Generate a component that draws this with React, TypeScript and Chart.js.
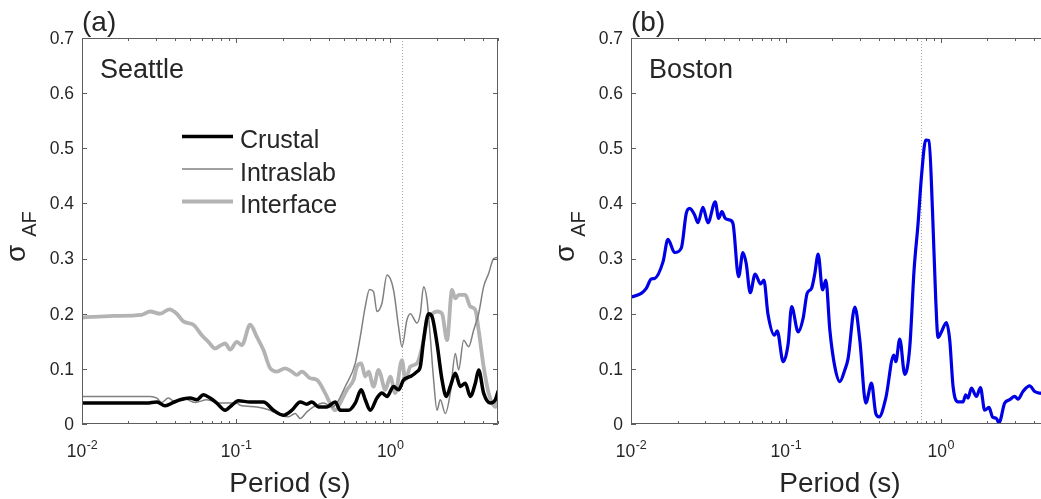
import React, { useEffect, useRef } from 'react';
import { Chart, registerables } from 'chart.js';

Chart.register(...registerables);

// ---------------- Data ----------------
const periodRange = [0.01, 5];
const yTicks = [0, 0.1, 0.2, 0.3, 0.4, 0.5, 0.6, 0.7];
const yTickLabels = ['0', '0.1', '0.2', '0.3', '0.4', '0.5', '0.6', '0.7'];
const xMajorTicks = [0.01, 0.1, 1];
const xMajorExponents = ['-2', '-1', '0'];
const xMinorTicks = [0.02, 0.03, 0.04, 0.05, 0.06, 0.07, 0.08, 0.09, 0.2, 0.3, 0.4, 0.5, 0.6, 0.7, 0.8, 0.9, 2, 3, 4, 5];

const seattleCrustalPeriods = [0.01, 0.0159, 0.0263, 0.0306, 0.0346, 0.0392, 0.0433, 0.0503, 0.0556, 0.0613, 0.0678, 0.0749, 0.0849, 0.0938, 0.1035, 0.1233, 0.1504, 0.1747, 0.2028, 0.23, 0.2604, 0.2878, 0.3101, 0.3423, 0.3882, 0.4395, 0.4735, 0.5362, 0.5926, 0.6483, 0.6882, 0.7414, 0.8197, 0.8833, 0.952, 1.05, 1.132, 1.22, 1.349, 1.491, 1.566, 1.645, 1.773, 1.866, 2.01, 2.167, 2.31, 2.452, 2.643, 2.848, 3.069, 3.307, 3.564, 3.745, 4.035, 4.461, 4.806, 5.0];
const seattleCrustal = [0.038, 0.038, 0.038, 0.040, 0.033, 0.039, 0.044, 0.047, 0.044, 0.053, 0.047, 0.038, 0.025, 0.034, 0.042, 0.040, 0.040, 0.025, 0.016, 0.025, 0.040, 0.036, 0.040, 0.031, 0.031, 0.040, 0.025, 0.025, 0.038, 0.062, 0.044, 0.025, 0.047, 0.056, 0.050, 0.068, 0.062, 0.080, 0.086, 0.095, 0.104, 0.152, 0.200, 0.195, 0.146, 0.080, 0.050, 0.068, 0.092, 0.068, 0.074, 0.050, 0.074, 0.098, 0.056, 0.038, 0.044, 0.059];

const seattleIntraslabPeriods = [0.01, 0.0277, 0.0306, 0.0329, 0.0363, 0.0402, 0.0455, 0.0542, 0.0645, 0.0787, 0.101, 0.1062, 0.1363, 0.1663, 0.1931, 0.2186, 0.2416, 0.2604, 0.2878, 0.3175, 0.3688, 0.4182, 0.4506, 0.5103, 0.5926, 0.6386, 0.6882, 0.7337, 0.7789, 0.8197, 0.8833, 0.952, 1.05, 1.132, 1.191, 1.284, 1.349, 1.491, 1.566, 1.645, 1.731, 1.818, 1.911, 2.01, 2.112, 2.276, 2.452, 2.643, 2.777, 2.992, 3.225, 3.474, 3.745, 4.035, 4.348, 4.686, 5.0];
const seattleIntraslab = [0.050, 0.050, 0.047, 0.039, 0.047, 0.040, 0.047, 0.039, 0.044, 0.038, 0.038, 0.034, 0.031, 0.025, 0.016, 0.013, 0.019, 0.010, 0.022, 0.031, 0.038, 0.031, 0.038, 0.068, 0.110, 0.158, 0.213, 0.244, 0.240, 0.204, 0.219, 0.270, 0.243, 0.176, 0.140, 0.189, 0.200, 0.183, 0.200, 0.249, 0.225, 0.158, 0.080, 0.025, 0.044, 0.019, 0.056, 0.128, 0.098, 0.152, 0.140, 0.170, 0.200, 0.249, 0.273, 0.300, 0.302];

const seattleInterfacePeriods = [0.01, 0.0159, 0.0244, 0.0277, 0.0321, 0.0369, 0.0412, 0.0455, 0.0528, 0.0599, 0.0661, 0.0731, 0.0787, 0.0849, 0.0914, 0.101, 0.1089, 0.1233, 0.1363, 0.1504, 0.1663, 0.1837, 0.208, 0.23, 0.2478, 0.2671, 0.3023, 0.3342, 0.3783, 0.4182, 0.4395, 0.4735, 0.5234, 0.5777, 0.6077, 0.6483, 0.6882, 0.7229, 0.7789, 0.8395, 0.861, 0.9279, 1.0, 1.078, 1.191, 1.252, 1.349, 1.491, 1.645, 1.731, 1.866, 2.01, 2.167, 2.335, 2.515, 2.643, 2.777, 3.069, 3.307, 3.564, 3.745, 4.035, 4.348, 4.806, 5.0];
const seattleInterface = [0.193, 0.196, 0.198, 0.204, 0.200, 0.208, 0.200, 0.186, 0.180, 0.161, 0.149, 0.137, 0.142, 0.146, 0.135, 0.149, 0.143, 0.180, 0.158, 0.134, 0.101, 0.095, 0.101, 0.095, 0.089, 0.095, 0.083, 0.080, 0.056, 0.031, 0.025, 0.038, 0.062, 0.080, 0.104, 0.110, 0.086, 0.095, 0.068, 0.098, 0.092, 0.062, 0.086, 0.056, 0.116, 0.080, 0.104, 0.110, 0.152, 0.189, 0.200, 0.204, 0.200, 0.152, 0.243, 0.228, 0.234, 0.234, 0.213, 0.207, 0.170, 0.104, 0.056, 0.031, 0.056];

const bostonPeriods = [0.01, 0.01165, 0.01255, 0.01352, 0.01422, 0.01609, 0.01733, 0.01913, 0.02112, 0.02274, 0.02392, 0.02576, 0.02706, 0.02914, 0.03139, 0.03499, 0.03679, 0.03864, 0.04058, 0.04333, 0.04549, 0.04951, 0.0528, 0.05545, 0.05884, 0.06335, 0.06866, 0.07211, 0.07655, 0.08455, 0.08788, 0.09607, 0.1035, 0.1089, 0.1201, 0.1293, 0.1372, 0.1465, 0.1538, 0.1616, 0.1725, 0.1812, 0.1923, 0.207, 0.223, 0.2402, 0.2523, 0.2788, 0.3002, 0.3282, 0.3572, 0.3807, 0.3998, 0.4417, 0.4975, 0.5125, 0.5439, 0.5857, 0.631, 0.6725, 0.7138, 0.7508, 0.8001, 0.8403, 0.8842, 0.9284, 0.9607, 1.01, 1.088, 1.143, 1.201, 1.293, 1.393, 1.449, 1.5, 1.578, 1.7, 1.804, 1.922, 2.049, 2.156, 2.288, 2.377, 2.588, 2.788, 3.002, 3.153, 3.396, 3.752, 4.042, 4.352, 5.0];
const boston = [0.230, 0.237, 0.246, 0.263, 0.264, 0.294, 0.335, 0.311, 0.319, 0.382, 0.391, 0.379, 0.365, 0.393, 0.365, 0.403, 0.373, 0.385, 0.373, 0.370, 0.364, 0.267, 0.311, 0.291, 0.238, 0.272, 0.254, 0.261, 0.200, 0.161, 0.169, 0.113, 0.146, 0.213, 0.167, 0.192, 0.237, 0.246, 0.273, 0.308, 0.243, 0.261, 0.170, 0.104, 0.077, 0.098, 0.119, 0.212, 0.152, 0.038, 0.074, 0.019, 0.013, 0.047, 0.125, 0.113, 0.154, 0.090, 0.140, 0.279, 0.364, 0.449, 0.515, 0.514, 0.388, 0.225, 0.157, 0.167, 0.184, 0.152, 0.068, 0.040, 0.040, 0.053, 0.047, 0.065, 0.050, 0.066, 0.025, 0.030, 0.013, 0.010, 0.002, 0.038, 0.044, 0.050, 0.045, 0.059, 0.069, 0.059, 0.056, 0.055];

const seattleReferencePeriod = 1.2;
const bostonReferencePeriod = 0.75;

// ---------------- Styling ----------------
const FONT = '"Liberation Sans", Arial, Helvetica, sans-serif';
const TEXT = '#262626';
const AXIS = '#5e5e5e';

type SeriesDef = { label: string; periods: number[]; values: number[]; color: string; width: number };

type PanelDef = {
  tag: string;
  city: string;
  refPeriod: number;
  series: SeriesDef[];
  showLegend: boolean;
  canvasLeft: number;
  canvasWidth: number;
  padding: { left: number; right: number; top: number; bottom: number };
};

const H = 499;

const panels: PanelDef[] = [
  {
    tag: '(a)',
    city: 'Seattle',
    refPeriod: seattleReferencePeriod,
    showLegend: true,
    canvasLeft: 0,
    canvasWidth: 520,
    padding: { left: 82, right: 22, top: 38, bottom: 75 },
    series: [
      { label: 'Crustal', periods: seattleCrustalPeriods, values: seattleCrustal, color: '#000000', width: 3.5 },
      { label: 'Intraslab', periods: seattleIntraslabPeriods, values: seattleIntraslab, color: '#808080', width: 1.5 },
      { label: 'Interface', periods: seattleInterfacePeriods, values: seattleInterface, color: '#b3b3b3', width: 3.8 },
    ],
  },
  {
    tag: '(b)',
    city: 'Boston',
    refPeriod: bostonReferencePeriod,
    showLegend: false,
    canvasLeft: 520,
    canvasWidth: 540,
    padding: { left: 111, right: 11, top: 38, bottom: 75 },
    series: [
      { label: 'Boston', periods: bostonPeriods, values: boston, color: '#0000e6', width: 3.2 },
    ],
  },
];

function drawTenPower(ctx: CanvasRenderingContext2D, cx: number, baseY: number, exp: string) {
  ctx.font = `17.5px ${FONT}`;
  const w1 = ctx.measureText('10').width;
  ctx.font = `12.5px ${FONT}`;
  const w2 = ctx.measureText(exp).width;
  const x0 = cx - (w1 + w2) / 2;
  ctx.textAlign = 'left';
  ctx.textBaseline = 'alphabetic';
  ctx.font = `17.5px ${FONT}`;
  ctx.fillText('10', x0, baseY);
  ctx.font = `12.5px ${FONT}`;
  ctx.fillText(exp, x0 + w1 + 0.5, baseY - 8.5);
}

const matlabAxes = {
  id: 'matlabAxes',
  beforeDatasetsDraw(chart: any, _args: any, opts: any) {
    const { ctx, chartArea } = chart;
    const { top, bottom } = chartArea;
    const px = Math.round(chart.scales.x.getPixelForValue(opts.refPeriod)) + 0.5;
    ctx.save();
    ctx.strokeStyle = '#a6a6a6';
    ctx.lineWidth = 1;
    ctx.setLineDash([1, 2]);
    ctx.beginPath();
    ctx.moveTo(px, top);
    ctx.lineTo(px, bottom);
    ctx.stroke();
    ctx.restore();
  },
  afterDatasetsDraw(chart: any) {
    const { ctx, chartArea } = chart;
    const { left, right, top, bottom } = chartArea;
    const xs = chart.scales.x;
    const ys = chart.scales.y;
    ctx.save();
    ctx.strokeStyle = AXIS;
    ctx.lineWidth = 1;
    ctx.setLineDash([]);
    ctx.beginPath();
    ctx.moveTo(left + 0.5, top + 0.5);
    ctx.lineTo(right - 0.5, top + 0.5);
    ctx.lineTo(right - 0.5, bottom - 0.5);
    ctx.lineTo(left + 0.5, bottom - 0.5);
    ctx.closePath();
    ctx.stroke();
    ctx.beginPath();
    for (const v of yTicks) {
      const y = Math.round(ys.getPixelForValue(v)) + 0.5;
      ctx.moveTo(left, y);
      ctx.lineTo(left + 5, y);
      ctx.moveTo(right, y);
      ctx.lineTo(right - 5, y);
    }
    for (const v of xMajorTicks) {
      const x = Math.round(xs.getPixelForValue(v)) + 0.5;
      ctx.moveTo(x, bottom);
      ctx.lineTo(x, bottom - 5);
      ctx.moveTo(x, top);
      ctx.lineTo(x, top + 5);
    }
    for (const v of xMinorTicks) {
      const x = Math.round(xs.getPixelForValue(v)) + 0.5;
      ctx.moveTo(x, bottom);
      ctx.lineTo(x, bottom - 3);
      ctx.moveTo(x, top);
      ctx.lineTo(x, top + 3);
    }
    ctx.stroke();
    ctx.restore();
  },
  afterDraw(chart: any, _args: any, opts: any) {
    const { ctx, chartArea } = chart;
    const { left, right, bottom } = chartArea;
    const xs = chart.scales.x;
    const ys = chart.scales.y;
    ctx.save();
    ctx.fillStyle = TEXT;
    // y tick labels
    ctx.font = `17.5px ${FONT}`;
    ctx.textAlign = 'right';
    ctx.textBaseline = 'middle';
    yTicks.forEach((v, i) => {
      ctx.fillText(yTickLabels[i], left - 8, ys.getPixelForValue(v) + 1);
    });
    // x tick labels
    xMajorTicks.forEach((v, i) => {
      drawTenPower(ctx, xs.getPixelForValue(v), bottom + 33, xMajorExponents[i]);
    });
    // x title
    ctx.font = `28px ${FONT}`;
    ctx.textAlign = 'center';
    ctx.textBaseline = 'alphabetic';
    ctx.fillText('Period (s)', (left + right) / 2, 492);
    // panel tag
    ctx.textAlign = 'left';
    ctx.fillText(opts.tag, left, 31);
    // city
    ctx.font = `27px ${FONT}`;
    ctx.fillText(opts.city, left + 18, 77.5);
    // y title: sigma_AF
    ctx.save();
    ctx.translate(left - 57, 262);
    ctx.rotate(-Math.PI / 2);
    ctx.font = `28px ${FONT}`;
    ctx.fillText('σ', 0, 0);
    const ws = ctx.measureText('σ').width;
    ctx.font = `20px ${FONT}`;
    ctx.fillText('AF', ws + 8, 11);
    ctx.restore();
    // legend
    if (opts.showLegend) {
      const ds = chart.data.datasets;
      const rows = [148, 180.5, 213];
      ds.forEach((d: any, i: number) => {
        const by = rows[i];
        const ly = by - 11.5;
        ctx.save();
        ctx.strokeStyle = d.borderColor;
        ctx.lineWidth = d.borderWidth;
        ctx.beginPath();
        ctx.moveTo(left + 100, ly);
        ctx.lineTo(left + 151, ly);
        ctx.stroke();
        ctx.restore();
        ctx.font = `25px ${FONT}`;
        ctx.fillStyle = TEXT;
        ctx.textAlign = 'left';
        ctx.fillText(d.label, left + 158, by);
      });
    }
    ctx.restore();
  },
};

function Panel({ def }: { def: PanelDef }) {
  const ref = useRef<HTMLCanvasElement>(null);
  useEffect(() => {
    const canvas = ref.current;
    if (!canvas) return;
    const chart = new Chart(canvas, {
      type: 'line',
      data: {
        datasets: def.series.map((s) => ({
          label: s.label,
          data: s.periods.map((p, i) => ({ x: p, y: s.values[i] })),
          borderColor: s.color,
          borderWidth: s.width,
          pointRadius: 0,
          cubicInterpolationMode: 'monotone',
          fill: false,
          borderJoinStyle: 'round',
          borderCapStyle: 'round',
        })),
      },
      options: {
        animation: false,
        responsive: false,
        devicePixelRatio: 1,
        events: [],
        layout: { padding: def.padding },
        plugins: {
          legend: { display: false },
          tooltip: { enabled: false },
          matlabAxes: {
            tag: def.tag,
            city: def.city,
            refPeriod: def.refPeriod,
            showLegend: def.showLegend,
          },
        } as any,
        scales: {
          x: { type: 'logarithmic', min: periodRange[0], max: periodRange[1], display: false },
          y: { type: 'linear', min: 0, max: 0.7, display: false },
        },
      },
      plugins: [matlabAxes as any],
    });
    return () => chart.destroy();
  }, [def]);
  return (
    <div style={{ position: 'absolute', left: def.canvasLeft, top: 0, width: def.canvasWidth, height: H }}>
      <canvas ref={ref} width={def.canvasWidth} height={H} style={{ display: 'block', width: def.canvasWidth, height: H }} />
    </div>
  );
}

export default function App() {
  return (
    <div style={{ position: 'absolute', left: 0, top: 0, width: 1041, height: H, overflow: 'hidden', background: '#ffffff' }}>
      {panels.map((p) => (
        <Panel key={p.tag} def={p} />
      ))}
    </div>
  );
}
